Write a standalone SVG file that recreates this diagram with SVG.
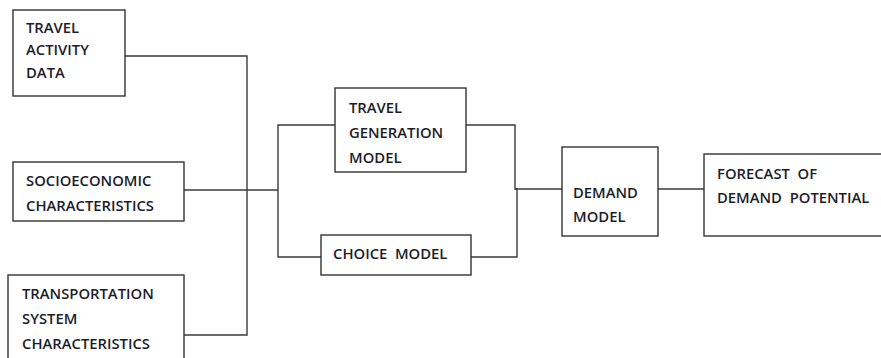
<svg xmlns="http://www.w3.org/2000/svg" width="881" height="358" viewBox="0 0 881 358">
<style>
.box{fill:#fff;stroke:#333;stroke-width:1.4}
.ln{fill:none;stroke:#3a3a3a;stroke-width:1.4}
text{font-family:"Open Sans","Liberation Sans",sans-serif;font-size:14.8px;font-weight:600;fill:#1c1c2a;dominant-baseline:central}
</style>
<rect width="881" height="358" fill="#fff"/>
<g id="connectors">
<polyline class="ln" points="125,56 247,56 247,335 184,335"/>
<line class="ln" x1="184" y1="190" x2="278" y2="190"/>
<polyline class="ln" points="335,125 278,125 278,257 321,257"/>
<polyline class="ln" points="466,125 515,125 515,189 517,189 517,257 471,257"/>
<line class="ln" x1="515" y1="189" x2="562" y2="189"/>
<line class="ln" x1="658" y1="189" x2="704" y2="189"/>
</g>
<g id="travel-activity-data">
<rect class="box" x="13" y="10" width="112" height="86"/>
<text x="26" y="27">TRAVEL</text>
<text x="26" y="49">ACTIVITY</text>
<text x="26" y="72">DATA</text>
</g>
<g id="socioeconomic">
<rect class="box" x="13" y="162" width="171" height="59"/>
<text x="26" y="180">SOCIOECONOMIC</text>
<text x="26" y="205">CHARACTERISTICS</text>
</g>
<g id="transportation">
<rect class="box" x="8" y="275" width="176" height="90"/>
<text x="22" y="293">TRANSPORTATION</text>
<text x="22" y="318">SYSTEM</text>
<text x="22" y="343">CHARACTERISTICS</text>
</g>
<g id="travel-generation-model">
<rect class="box" x="335" y="88" width="131" height="84"/>
<text x="349" y="107">TRAVEL</text>
<text x="349" y="132">GENERATION</text>
<text x="349" y="157">MODEL</text>
</g>
<g id="choice-model">
<rect class="box" x="321" y="235" width="150" height="40"/>
<text x="333" y="253" xml:space="preserve">CHOICE  MODEL</text>
</g>
<g id="demand-model">
<rect class="box" x="562" y="147" width="96" height="89"/>
<text x="573" y="192">DEMAND</text>
<text x="573" y="216">MODEL</text>
</g>
<g id="forecast">
<rect class="box" x="704" y="154" width="190" height="82"/>
<text x="717" y="173" xml:space="preserve">FORECAST  OF</text>
<text x="717" y="197" xml:space="preserve">DEMAND  POTENTIAL</text>
</g>
</svg>
